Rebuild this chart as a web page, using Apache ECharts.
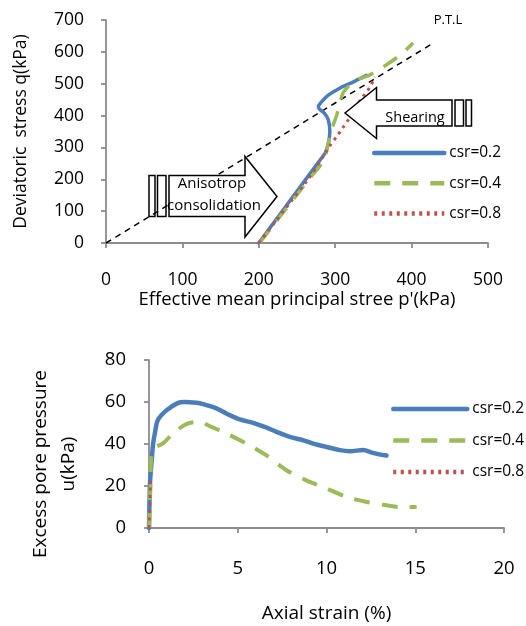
<!DOCTYPE html>
<html>
<head>
<meta charset="utf-8">
<title>stress path and pore pressure</title>
<script src="https://cdn.jsdelivr.net/npm/echarts@6.0.0/dist/echarts.min.js"></script>
<style>
  html, body { margin: 0; padding: 0; background: #fff; }
  #chart { width: 526px; height: 626px; }
</style>
</head>
<body>
<div id="chart"></div>
<script>
// top chart: stress path p'-q
const pTicks = [0, 100, 200, 300, 400, 500]
const qTicks = [0, 100, 200, 300, 400, 500, 600, 700]
const ptlP = [0, 430]
const ptlQ = [0, 630]
const path02P = [200, 220, 240, 260, 280, 287, 291, 293, 291, 286, 280, 278, 281, 291, 306, 324, 341]
const path02Q = [0, 65, 130, 195, 260, 283, 313, 350, 386, 407, 419, 428, 440, 464, 486, 506, 526]
const path04P = [201, 222, 243, 264, 285, 291, 296, 302, 310, 318, 328, 345, 363, 385, 402]
const path04Q = [0, 65, 130, 195, 260, 313, 360, 402, 470, 493, 512, 527, 553, 590, 628]
const path08P = [200, 221, 242, 263, 284, 293, 302, 310, 317, 324, 330, 338, 346, 352]
const path08Q = [0, 65, 130, 195, 271, 305, 334, 362, 386, 412, 438, 465, 491, 522]

// bottom chart: excess pore pressure vs axial strain
const strainTicks = [0, 5, 10, 15, 20]
const uTicks = [0, 20, 40, 60, 80]
const strain02 = [0, 0.05, 0.1, 0.15, 0.23, 0.35, 0.5, 0.98, 1.64, 2.0, 2.67, 3.05, 3.8, 4.36, 5.11, 5.86, 6.6, 7.18, 7.93, 8.68, 9.25, 10, 10.75, 11.3, 12.07, 12.6, 13.38]
const u02 = [0, 20, 27, 32, 40, 46, 51.4, 56, 59.6, 60, 59.6, 59, 57, 54.5, 51.7, 50.1, 47.9, 45.8, 43.4, 41.8, 40.2, 38.6, 37.1, 36.6, 37.1, 35.8, 34.5]
const strain04 = [0, 0.08, 0.12, 0.3, 0.79, 1.35, 2.1, 2.86, 3.42, 4.36, 5.49, 6.6, 7.74, 8.87, 10, 11.13, 12.26, 13.38, 14.14, 15.08]
const u04 = [0, 20, 33, 38, 40.3, 45, 49.5, 50.5, 48.5, 45, 40.2, 34.7, 27.5, 22.7, 18.8, 14.8, 12.4, 10.8, 10, 10]
const strain08 = [0, 0.05, 0.08]
const u08 = [0, 12, 25]

const names = ['csr=0.2', 'csr=0.4', 'csr=0.8']
const font = 'Open Sans'
const axisGray = '#8c8c8c'

function pairs(xs, ys) {
  return xs.map((x, i) => [x, ys[i]])
}

function txt(size, extra) {
  return Object.assign({ color: '#000', fontSize: size, fontFamily: font }, extra)
}

function valueAxis(ticks, gridIndex, opt) {
  return Object.assign({
    type: 'value',
    gridIndex: gridIndex,
    min: ticks[0],
    max: ticks[ticks.length - 1],
    interval: ticks[1] - ticks[0],
    nameLocation: 'middle',
    axisLine: { show: true, lineStyle: { color: axisGray, width: 1.8 } },
    axisTick: { show: true, length: 5, lineStyle: { color: axisGray, width: 1.8 } },
    splitLine: { show: false }
  }, opt)
}

const blue = '#4a7ebb'
const green = '#9bbb59'
const red = '#c0504d'

function curve(name, data, color, type, width, axisIndex) {
  return {
    name: name,
    type: 'line',
    xAxisIndex: axisIndex,
    yAxisIndex: axisIndex,
    data: data,
    smooth: 0.3,
    showSymbol: false,
    symbol: 'none',
    color: color,
    lineStyle: { color: color, width: width, type: type, cap: type === 'solid' ? 'round' : 'butt' },
    z: 3
  }
}

const legendStyle = {
  orient: 'vertical',
  padding: 0,
  itemWidth: 70,
  itemHeight: 14,
  itemGap: 14.2,
  itemStyle: { opacity: 0 },
  lineStyle: { width: 4.5 },
  textStyle: txt(15.5),
  data: names
}

const myChart = echarts.init(document.getElementById('chart'), null, { renderer: 'canvas' })
myChart.setOption({
  animation: false,
  grid: [
    { left: 106, right: 38, top: 20, bottom: 383 },
    { left: 149, right: 22, top: 360, bottom: 98 }
  ],
  xAxis: [
    valueAxis(pTicks, 0, {
      name: "Effective mean principal stree p'(kPa)", nameGap: 35, nameTextStyle: txt(18.5),
      axisLabel: txt(17.5, { margin: 28 })
    }),
    valueAxis(strainTicks, 1, {
      name: 'Axial strain (%)', nameGap: 76, nameTextStyle: txt(19),
      axisLabel: txt(18.5, { margin: 31 })
    })
  ],
  yAxis: [
    valueAxis(qTicks, 0, {
      name: 'Deviatoric  stress q(kPa)', nameGap: 76, nameTextStyle: txt(17.5),
      axisLabel: txt(17.5, { margin: 22 })
    }),
    valueAxis(uTicks, 1, {
      name: 'Excess pore pressure\nu(kPa)', nameGap: 66,
      nameTextStyle: txt(19, { lineHeight: 28, padding: [0, 40, 0, 0] }),
      axisLabel: txt(18.5, { margin: 23 })
    })
  ],
  legend: [
    Object.assign({}, legendStyle, { left: 372, top: 145 }),
    Object.assign({}, legendStyle, { left: 391, top: 401, itemWidth: 74, itemGap: 15.5 })
  ],
  series: [
    {
      name: 'P.T.L',
      type: 'line',
      data: pairs(ptlP, ptlQ),
      showSymbol: false,
      symbol: 'none',
      color: '#000',
      lineStyle: { color: '#000', width: 1.5, type: [6, 5] },
      z: 1
    },
    curve(names[0], pairs(path02P, path02Q), blue, 'solid', 3.5, 0),
    curve(names[1], pairs(path04P, path04Q), green, [16, 12], 3.5, 0),
    curve(names[2], pairs(path08P, path08Q), red, [3, 4.5], 3, 0),
    curve(names[0], pairs(strain02, u02), blue, 'solid', 4.5, 1),
    curve(names[1], pairs(strain04, u04), green, [16, 12], 4, 1),
    curve(names[2], pairs(strain08, u08), red, [3, 4.5], 3, 1)
  ],
  graphic: [
    // anisotropic consolidation arrow
    { type: 'rect', z: 10, shape: { x: 149, y: 175.5, width: 6, height: 41 }, style: { fill: 'none', stroke: '#000', lineWidth: 1.5 } },
    { type: 'rect', z: 10, shape: { x: 157.5, y: 175.5, width: 8.5, height: 41 }, style: { fill: 'none', stroke: '#000', lineWidth: 1.5 } },
    {
      type: 'polygon', z: 10,
      shape: { points: [[169, 175.5], [245, 175.5], [245, 156.5], [277, 196.5], [245, 237], [245, 216.5], [169, 216.5]] },
      style: { fill: '#fff', stroke: '#000', lineWidth: 1.5 }
    },
    { type: 'text', z: 11, x: 212, y: 184, style: { text: 'Anisotrop', fontSize: 15, fontFamily: font, fill: '#000', align: 'center', verticalAlign: 'middle' } },
    { type: 'text', z: 11, x: 214, y: 206, style: { text: 'consolidation', fontSize: 15, fontFamily: font, fill: '#000', align: 'center', verticalAlign: 'middle' } },
    // shearing arrow
    {
      type: 'polygon', z: 10,
      shape: { points: [[345, 113], [376.5, 87.5], [376.5, 100], [452, 100], [452, 126], [376.5, 126], [376.5, 138.5]] },
      style: { fill: '#fff', stroke: '#000', lineWidth: 1.5 }
    },
    { type: 'rect', z: 10, shape: { x: 455, y: 100, width: 8.5, height: 26 }, style: { fill: 'none', stroke: '#000', lineWidth: 1.5 } },
    { type: 'rect', z: 10, shape: { x: 466, y: 100, width: 5.5, height: 26 }, style: { fill: 'none', stroke: '#000', lineWidth: 1.5 } },
    { type: 'text', z: 11, x: 415, y: 118, style: { text: 'Shearing', fontSize: 14.5, fontFamily: font, fill: '#000', align: 'center', verticalAlign: 'middle' } },
    { type: 'text', z: 11, x: 448, y: 20, style: { text: 'P.T.L', fontSize: 13, fontFamily: font, fill: '#000', align: 'center', verticalAlign: 'middle' } }
  ]
})
</script>
</body>
</html>
